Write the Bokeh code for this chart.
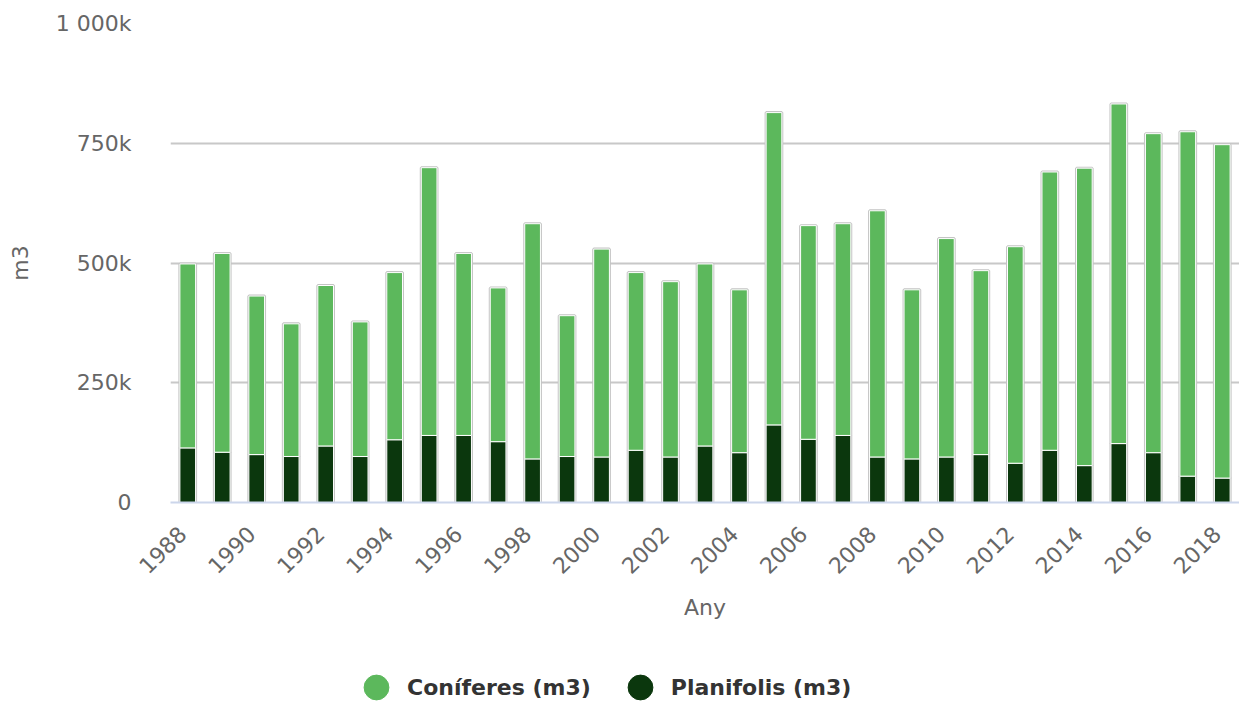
from math import pi
from bokeh.plotting import figure
from bokeh.layouts import column
from bokeh.models import (ColumnDataSource, Range1d, FixedTicker, Legend, LegendItem)
from bokeh.embed import file_html
from bokeh.resources import INLINE

# ---- data ----
years = list(range(1988, 2019))
coniferes = [384000, 415000, 331000, 277000, 335000, 281000, 349000, 559000, 380000, 321000,
             491000, 294000, 434000, 371000, 366000, 380000, 340000, 652000, 446000, 442000,
             514000, 353000, 456000, 384000, 452000, 581000, 621000, 709000, 666000, 719000, 696000]
planifolis = [114000, 105000, 100000, 96000, 118000, 96000, 131000, 140000, 140000, 127000,
              91000, 96000, 95000, 109000, 95000, 118000, 104000, 162000, 132000, 140000,
              95000, 91000, 95000, 100000, 82000, 109000, 77000, 123000, 104000, 55000, 51000]
series_names = ["Coníferes (m3)", "Planifolis (m3)"]
x_tick_years = list(range(1988, 2019, 2))
y_ticks = [0, 250000, 500000, 750000, 1000000]
y_tick_labels = ["0", "250k", "500k", "750k", "1 000k"]

LIGHT = "#5cb85c"
DARK = "#0b370d"
FONT = "DejaVu Sans"
NB = "\u00a0"

source = ColumnDataSource(dict(year=years, coniferes=coniferes, planifolis=planifolis))

p = figure(width=1239, height=650, output_backend="svg", toolbar_location=None,
           x_range=Range1d(1987.5, 2018.5), y_range=Range1d(0, 1000000),
           min_border_left=170, min_border_right=0, min_border_top=23, min_border_bottom=148)
p.outline_line_color = None
p.background_fill_color = "white"

# grey outline layer
p.vbar_stack(["planifolis", "coniferes"], x="year", width=0.455, source=source,
             color=[DARK, LIGHT], line_color="#c4c4c4", line_width=3)
# main bars with white border
p.vbar_stack(["planifolis", "coniferes"], x="year", width=0.455, source=source,
             fill_color=[DARK, LIGHT], line_color="white", line_width=1)

# grid
p.xgrid.grid_line_color = None
p.ygrid.ticker = FixedTicker(ticks=y_ticks)
p.ygrid.grid_line_color = "#c8c8c8"
p.ygrid.grid_line_width = 2

# y axis
p.yaxis.ticker = FixedTicker(ticks=y_ticks)
p.yaxis.major_label_overrides = {t: l for t, l in zip(y_ticks, y_tick_labels)}
p.yaxis.axis_line_color = None
p.yaxis.major_tick_line_color = None
p.yaxis.minor_tick_line_color = None
p.yaxis.major_label_standoff = 33
p.yaxis.major_label_text_font = FONT
p.yaxis.major_label_text_font_size = "22px"
p.yaxis.major_label_text_color = "#666666"
p.yaxis.axis_label = "m3"
p.yaxis.axis_label_text_font = FONT
p.yaxis.axis_label_text_font_size = "22px"
p.yaxis.axis_label_text_font_style = "normal"
p.yaxis.axis_label_text_color = "#666666"
p.yaxis.axis_label_standoff = 20

# x axis
p.xaxis.ticker = FixedTicker(ticks=x_tick_years)
p.xaxis.major_label_overrides = {y: str(y) + NB for y in x_tick_years}
p.xaxis.major_label_orientation = pi / 4
p.xaxis.axis_line_color = "#ccd6eb"
p.xaxis.axis_line_width = 2
p.xaxis.major_tick_line_color = None
p.xaxis.minor_tick_line_color = None
p.xaxis.major_label_standoff = 17
p.xaxis.major_label_text_font = FONT
p.xaxis.major_label_text_font_size = "22px"
p.xaxis.major_label_text_color = "#666666"
p.xaxis.axis_label = "Any"
p.xaxis.axis_label_text_font = FONT
p.xaxis.axis_label_text_font_size = "22px"
p.xaxis.axis_label_text_font_style = "normal"
p.xaxis.axis_label_text_color = "#666666"
p.xaxis.axis_label_standoff = 4

# legend figure (its frame shows nothing; legend icons come from off-frame renderers)
lf = figure(width=1239, height=52, output_backend="svg", toolbar_location=None,
            x_range=Range1d(0, 1), y_range=Range1d(0, 1),
            x_axis_type=None, y_axis_type=None, min_border=0)
lf.outline_line_color = None
lf.xgrid.visible = False
lf.ygrid.visible = False
r_con = lf.scatter("year", "coniferes", source=source, marker="circle",
                   fill_color=LIGHT, line_color=LIGHT)
r_pla = lf.scatter("year", "planifolis", source=source, marker="circle",
                   fill_color=DARK, line_color=DARK)
legend = Legend(items=[LegendItem(label=series_names[0], renderers=[r_con]),
                       LegendItem(label=series_names[1], renderers=[r_pla])],
                orientation="horizontal", location=(175, -16),
                glyph_width=62, glyph_height=62, label_standoff=0, spacing=18,
                padding=0, margin=0, border_line_color=None, background_fill_alpha=0,
                label_text_font=FONT, label_text_font_size="22px",
                label_text_font_style="bold", label_text_color="#333333")
lf.add_layout(legend)

open("out.html", "w").write(file_html(column(p, lf, spacing=0), INLINE))
